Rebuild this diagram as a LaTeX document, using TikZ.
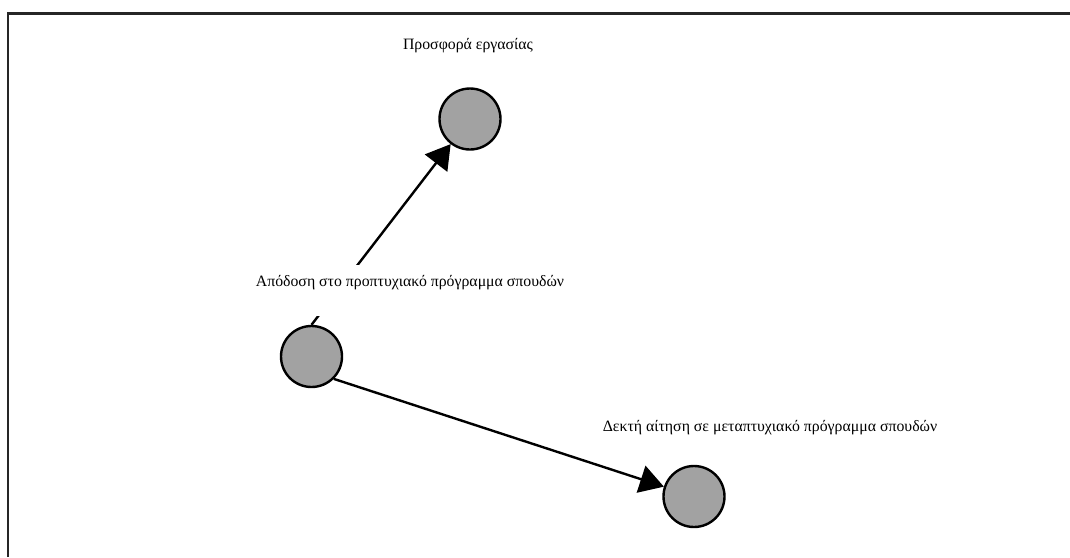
\documentclass[tikz,border=0pt]{standalone}
\usepackage{fontspec}
\setmainfont{Liberation Serif}
\usetikzlibrary{arrows.meta}
\definecolor{stategray}{HTML}{A2A2A2}
\tikzset{
  state/.style={circle, draw=black, line width=2.4pt, fill=stategray, minimum size=61pt, inner sep=0pt},
  flow/.style={line width=2.4pt, -{Triangle[length=24pt,width=28pt]}},
  caption/.style={font=\fontsize{15.8}{18}\selectfont, inner sep=0pt},
  frame/.style={line width=2.8pt, draw=black!85}
}
\begin{document}
\begin{tikzpicture}[x=1pt,y=-1pt]
  \useasboundingbox (0,0) rectangle (1070,557);
  % open frame: top and left edges
  \draw[frame] (8,557) -- (8,13.5) -- (1070,13.5);

  % states
  \node[state] (job) at (470,119) {};
  \node[state] (grade) at (311.5,356.5) {};
  \node[state] (master) at (694,496.5) {};

  % transitions
  \draw[flow] (grade.north) -- (job);
  \draw[flow] (grade.south east) -- (master);

  % labels
  \node[caption] (ljob) at (468,46) {Προσφορά εργασίας};
  \node[caption] (lmaster) at (770,428) {Δεκτή αίτηση σε μεταπτυχιακό πρόγραμμα σπουδών};
  \node[caption, fill=white, minimum width=340pt, minimum height=51pt] (lgrade) at (410,290.5) {};
  \node[caption] (tgrade) at (410,283) {Απόδοση στο προπτυχιακό πρόγραμμα σπουδών};
\end{tikzpicture}
\end{document}
